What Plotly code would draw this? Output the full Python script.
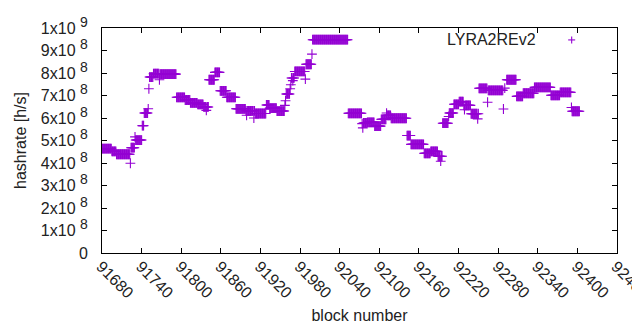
import plotly.graph_objects as go

# Runs of constant hashrate: start block, end block, value (x1e8 h/s)
run_start = [91680, 91695, 91702, 91724, 91731, 91741, 91744, 91752, 91758, 91768,
             91793, 91806, 91814, 91825, 91834, 91842, 91851, 91859, 91869, 91883,
             91898, 91912, 91929, 91934, 91945, 91959, 91967, 91972, 91989, 91999,
             92053, 92076, 92082, 92093, 92103, 92112, 92118, 92142, 92148, 92168,
             92178, 92189, 92196, 92205, 92213, 92221, 92228, 92239, 92251, 92265,
             92293, 92308, 92318, 92335, 92360, 92374, 92392]
run_end = [91694, 91701, 91722, 91729, 91740, 91743, 91749, 91757, 91766, 91792,
           91805, 91813, 91824, 91833, 91841, 91850, 91858, 91868, 91882, 91897,
           91911, 91928, 91933, 91944, 91956, 91964, 91971, 91987, 91997, 92052,
           92073, 92081, 92092, 92102, 92110, 92117, 92141, 92147, 92167, 92177,
           92188, 92195, 92204, 92212, 92220, 92227, 92238, 92250, 92263, 92287,
           92307, 92317, 92334, 92359, 92373, 92390, 92403]
run_value = [4.64, 4.52, 4.39, 4.68, 5.02, 5.66, 6.22, 7.82, 7.97, 7.95,
             6.92, 6.80, 6.67, 6.61, 6.49, 7.70, 8.03, 7.21, 6.92, 6.41,
             6.32, 6.20, 6.58, 6.44, 6.31, 7.07, 7.78, 8.07, 8.39, 9.48,
             6.21, 5.78, 5.81, 5.64, 5.94, 6.12, 5.99, 5.22, 4.83, 4.43,
             4.52, 4.30, 5.77, 6.22, 6.61, 6.73, 6.56, 6.19, 7.32, 7.23,
             7.70, 6.96, 7.10, 7.36, 7.01, 7.14, 6.30]

# Individual blocks that deviate from the runs
single_block = [91723, 91730, 91750, 91751, 91767, 91838, 91899, 91910, 91957, 91958,
                91965, 91966, 91969, 91988, 91998, 92074, 92075, 92111, 92193, 92205,
                92229, 92249, 92264, 92288, 92290, 92391]
single_value = [3.99, 5.16, 6.41, 7.30, 7.70, 6.34, 6.12, 6.00, 6.56, 6.77,
                7.30, 7.48, 7.66, 7.73, 8.84, 5.75, 5.56, 6.22, 4.08, 6.07,
                6.37, 5.96, 6.70, 6.40, 7.33, 6.47]

x_ticks = list(range(91680, 92461, 60))
y_ticks = [i * 1e8 for i in range(0, 11)]
SUP = "<sup><span style='font-size:14px'>{}</span></sup>"
y_ticktext = ["0"] + [f"{i}x10 " + SUP.format(8) for i in range(1, 10)] + ["1x10 " + SUP.format(9)]

data = {}
for s, e, v in zip(run_start, run_end, run_value):
    for b in range(s, e + 1):
        data[b] = v * 1e8
for b, v in zip(single_block, single_value):
    data[b] = v * 1e8
xs = sorted(data)
ys = [data[b] for b in xs]

COLOR = "#9400D3"
FONT = "Liberation Sans, Arial, sans-serif"
FS = 16
TXT = "#222"

fig = go.Figure()
fig.add_trace(go.Scatter(
    x=xs, y=ys, mode="markers", name="LYRA2REv2", showlegend=False,
    marker=dict(symbol="cross-thin", size=7, line=dict(color=COLOR, width=1.1), color=COLOR),
    cliponaxis=True,
))

axis_common = dict(
    showline=True, linecolor="black", linewidth=1, mirror="ticks",
    ticks="inside", ticklen=5, tickcolor="black", tickwidth=1,
    showgrid=False, zeroline=False, automargin=False,
    tickfont=dict(family=FONT, size=FS, color=TXT),
)

fig.update_layout(
    width=640, height=330,
    margin=dict(l=94, r=31, t=20, b=85),
    plot_bgcolor="white", paper_bgcolor="white",
    font=dict(family=FONT, size=FS, color=TXT),
    xaxis=dict(range=[91680, 92460], tickvals=x_ticks, ticktext=[str(t) for t in x_ticks],
               tickangle=45, ticklabeloverflow="allow", ticklabelstandoff=-3, ticklabelshift=-1,
               title=dict(text="block number", font=dict(family=FONT, size=FS), standoff=9),
               **axis_common),
    yaxis=dict(range=[0, 1e9], tickvals=y_ticks, ticktext=y_ticktext, ticklabelstandoff=10,
               title=dict(text="hashrate [h/s]", font=dict(family=FONT, size=FS), standoff=10),
               **axis_common),
    showlegend=False,
)

# legend key (gnuplot-style: text then sample)
LX = 0.912
fig.add_annotation(x=0.846, y=0.947, xref="paper", yref="paper", text="LYRA2REv2",
                   showarrow=False, xanchor="right", yanchor="middle",
                   font=dict(family=FONT, size=FS, color=TXT))
fig.add_shape(type="line", xref="paper", yref="paper", x0=LX - 3.5 / 515, x1=LX + 3.5 / 515,
              y0=0.947, y1=0.947, line=dict(color=COLOR, width=1.1))
fig.add_shape(type="line", xref="paper", yref="paper", x0=LX, x1=LX,
              y0=0.947 - 3.5 / 225, y1=0.947 + 3.5 / 225, line=dict(color=COLOR, width=1.1))

fig.write_html("out.html")
